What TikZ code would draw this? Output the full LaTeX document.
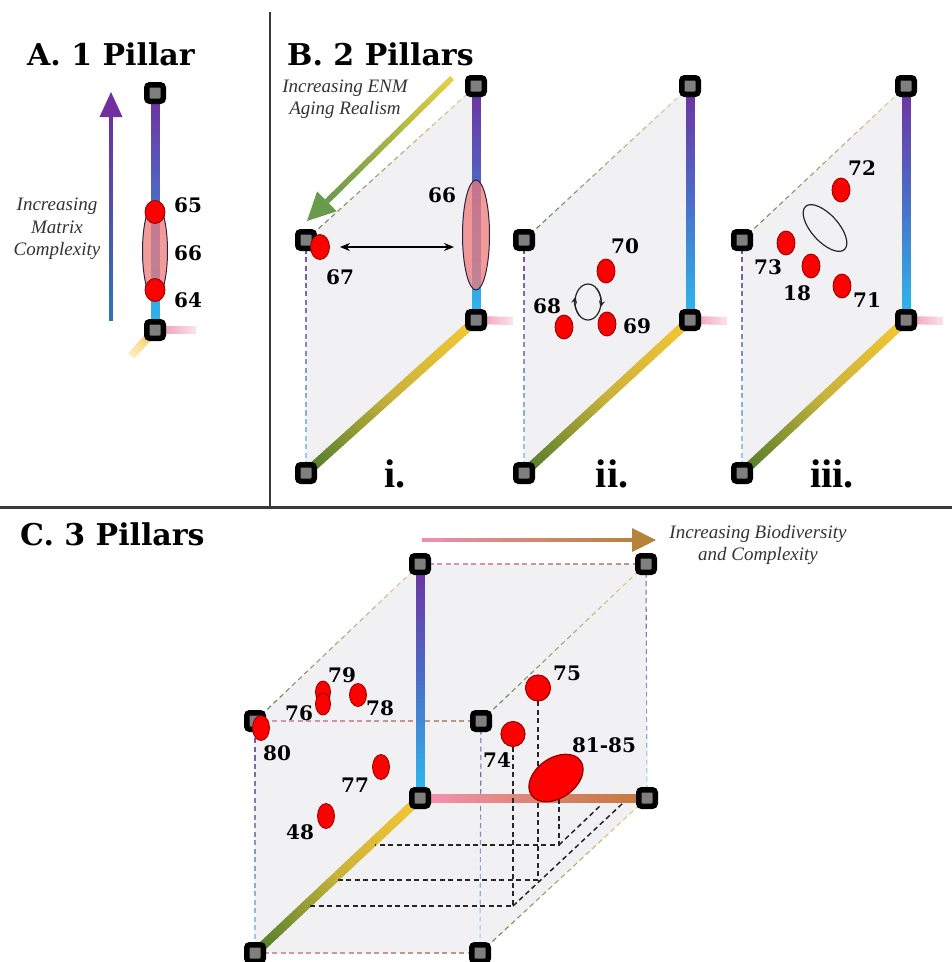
\documentclass[tikz,border=0pt]{standalone}
\usepackage{fontspec}
\setmainfont{Liberation Serif}
\newfontfamily\labfont{DejaVu Serif}
\usetikzlibrary{calc,arrows.meta,shapes.geometric}

\definecolor{facegrey}{HTML}{F1F0F2}
\definecolor{nodegrey}{HTML}{7F7F7F}
\definecolor{mpurple}{HTML}{7030A0}
\definecolor{mblue}{HTML}{4A6FC8}
\definecolor{mcyan}{HTML}{2CBBEE}
\definecolor{eyellow}{HTML}{F6C832}
\definecolor{eolive}{HTML}{C9B33A}
\definecolor{egreen}{HTML}{4C7A2C}
\definecolor{bpink}{HTML}{F592B2}
\definecolor{bbrown}{HTML}{C47838}
\definecolor{stubpink}{HTML}{EE8FAE}
\definecolor{stubpinkend}{HTML}{FBE3EB}
\definecolor{stubyellow}{HTML}{F4C640}
\definecolor{stubyellowend}{HTML}{FCEFC8}
\definecolor{dotred}{HTML}{FF0000}
\definecolor{dotedge}{HTML}{8C0000}
\definecolor{blobfill}{HTML}{EF7A7A}
\definecolor{blobedge}{HTML}{2B2440}
\definecolor{notegrey}{HTML}{333333}
\definecolor{dpurple}{HTML}{6E4C9C}
\definecolor{dcyan}{HTML}{93D7F0}
\definecolor{dgreen}{HTML}{5F7E55}
\definecolor{dyellow}{HTML}{EAD690}
\definecolor{dpink}{HTML}{DE95AC}
\definecolor{dbrown}{HTML}{B8957E}
\definecolor{projgrey}{HTML}{262626}
\definecolor{arrblue}{HTML}{2A78B5}
\definecolor{arryellow}{HTML}{E6D040}
\definecolor{arrgreen}{HTML}{6A9A4C}
\definecolor{arrpink}{HTML}{EE90B0}
\definecolor{arrbrown}{HTML}{B7823C}
\definecolor{ruleclr}{HTML}{3A3A3A}

\tikzset{
  pnode/.style={rectangle, draw=black, line width=5.5pt, fill=nodegrey,
    minimum size=16.5pt, inner sep=0pt, rounded corners=3pt},
  reddot/.style={ellipse, draw=dotedge, line width=0.8pt, fill=dotred, inner sep=0pt},
  blob/.style={ellipse, draw=blobedge, line width=1pt, fill=blobfill, fill opacity=0.75, inner sep=0pt},
  lab/.style={font=\labfont\bfseries\fontsize{20}{22}\selectfont, text=black, inner sep=0pt},
  paneltitle/.style={font=\labfont\bfseries\fontsize{30}{34}\selectfont, inner sep=0pt},
  roman/.style={font=\bfseries\fontsize{40}{44}\selectfont, inner sep=0pt},
  note/.style={font=\itshape\fontsize{19}{22.5}\selectfont, text=notegrey, align=center, inner sep=0pt},
  dashline/.style={line width=1.1pt, dash pattern=on 5pt off 3.5pt},
  projline/.style={line width=1.5pt, draw=projgrey, dash pattern=on 5pt off 3.5pt},
  ringline/.style={draw=black!85, line width=1.2pt},
}

% solid bar whose colour runs from #3 (at #1) to #4 (at #2)
\newcommand\gradbar[5]{%
  \foreach \k in {1,...,32}{%
    \pgfmathsetmacro\gpA{(\k-1)/32}%
    \pgfmathsetmacro\gpB{min(1,(\k+0.3)/32)}%
    \pgfmathtruncatemacro\gmix{100-(\k-0.5)*100/32}%
    \draw[line width=#5, draw={#3!\gmix!#4}] ($(#1)!\gpA!(#2)$) -- ($(#1)!\gpB!(#2)$);
  }}

% dashed edge with a colour ramp; the dash phase is carried across pieces
\newcommand\dashgrad[4]{%
  \pgfpointdiff{\pgfpointanchor{#1}{center}}{\pgfpointanchor{#2}{center}}%
  \pgfgetlastxy{\gdx}{\gdy}%
  \pgfmathveclen{\gdx}{\gdy}\let\glen\pgfmathresult
  \foreach \k in {1,...,12}{%
    \pgfmathsetmacro\gpA{(\k-1)/12}%
    \pgfmathsetmacro\gpB{\k/12}%
    \pgfmathtruncatemacro\gmix{100-(\k-0.5)*100/12}%
    \pgfmathsetmacro\gph{(\k-1)*\glen/12}%
    \draw[dashline, draw={#3!\gmix!#4}, dash phase=\gph pt] ($(#1)!\gpA!(#2)$) -- ($(#1)!\gpB!(#2)$);
  }}

% shaded arrow: #1 tail, #2 tip, #3 base name, #4/#5 colours, #6 head length, #7 half width, #8 shaft width
\newcommand\gradarrow[8]{%
  \coordinate (#3) at ($(#2)!#6!(#1)$);
  \gradbar{#1}{#3}{#4}{#5}{#8}
  \fill[#5] (#2) -- ($(#3)!#7!90:(#2)$) -- ($(#3)!#7!-90:(#2)$) -- cycle;
}

\begin{document}
\begin{tikzpicture}[x=1pt,y=-1pt]
\useasboundingbox (0,0) rectangle (952,962);
\fill[white] (0,0) rectangle (952,962);

% panel dividers
\draw[ruleclr, line width=1.6pt] (270,12) -- (270,507);
\draw[ruleclr, line width=3pt] (0,507) -- (952,507);

% ---------------- A. one pillar ----------------
\coordinate (aT) at (155,93);
\coordinate (aB) at (155,330);
\coordinate (aMid) at ($(aT)!.5!(aB)$);
\coordinate (aPk) at (196,330);
\coordinate (aYl) at (131,356);
\gradbar{aB}{aPk}{stubpink}{stubpinkend}{8pt}
\gradbar{aB}{aYl}{stubyellow}{stubyellowend}{8pt}
\gradbar{aT}{aMid}{mpurple}{mblue}{9pt}
\gradbar{aMid}{aB}{mblue}{mcyan}{9pt}
\node[pnode] (naT) at (aT) {};
\node[pnode] (naB) at (aB) {};

\coordinate (mTail) at (111,321);
\coordinate (mTip) at (111,92);
\gradarrow{mTail}{mTip}{mBase}{arrblue}{mpurple}{25pt}{11.5pt}{4.5pt}
\node[note] (tMat) at (57,229) {Increasing\\Matrix\\Complexity};

\node[blob, minimum width=25pt, minimum height=97pt] (a66) at (155,251) {};
\node[reddot, minimum width=20pt, minimum height=23pt] (a65) at (155,212) {};
\node[reddot, minimum width=20pt, minimum height=23pt] (a64) at (155,290) {};
\node[lab] (l65) at (188,205) {65};
\node[lab] (l66) at (188,253) {66};
\node[lab] (l64) at (188,300) {64};

\node[paneltitle, anchor=base west] (tA) at (27,65) {A. 1 Pillar};

% ---------------- B. two pillars ----------------
\foreach \p/\lx/\rx in {i/306/476, ii/524/690, iii/742/906}{
  \coordinate (L\p) at (\lx,240);
  \coordinate (T\p) at (\rx,86);
  \coordinate (R\p) at (\rx,320);
  \coordinate (G\p) at (\lx,473);
  \coordinate (M\p) at ($(T\p)!.5!(R\p)$);
  \coordinate (E\p) at ($(R\p)!.5!(G\p)$);
  \coordinate (S\p) at (\rx+37,321);
  \fill[facegrey] (L\p) -- (T\p) -- (R\p) -- (G\p) -- cycle;
  \dashgrad{L\p}{T\p}{dgreen}{dyellow}
  \dashgrad{L\p}{G\p}{dpurple}{dcyan}
  \gradbar{R\p}{S\p}{stubpink}{stubpinkend}{8pt}
  \gradbar{T\p}{M\p}{mpurple}{mblue}{9pt}
  \gradbar{M\p}{R\p}{mblue}{mcyan}{9pt}
  \gradbar{R\p}{E\p}{eyellow}{eolive}{9pt}
  \gradbar{E\p}{G\p}{eolive}{egreen}{9pt}
  \node[pnode] (nL\p) at (L\p) {};
  \node[pnode] (nT\p) at (T\p) {};
  \node[pnode] (nR\p) at (R\p) {};
  \node[pnode] (nG\p) at (G\p) {};
}

\node[paneltitle, anchor=base west] (tB) at (287,65) {B. 2 Pillars};
\coordinate (eTail) at (452,78);
\coordinate (eTip) at (307,221);
\gradarrow{eTail}{eTip}{eBase}{arryellow}{arrgreen}{28pt}{14pt}{5.5pt}
\node[note] (tEnm) at (345,99) {Increasing ENM\\Aging Realism};

% i.
\node[blob, minimum width=27pt, minimum height=110pt] (b66) at (476,235) {};
\node[reddot, minimum width=19pt, minimum height=25pt] (b67) at (320,247) {};
\draw[line width=1.3pt, {Stealth[length=10pt,width=8pt]}-{Stealth[length=10pt,width=8pt]},
  shorten <=10pt, shorten >=8pt] (b67.east) -- (b67.east -| b66.west);
\node[lab] (l66b) at (442,195) {66};
\node[lab] (l67) at (340,277) {67};
\node[roman, anchor=base] (ri) at (395,487) {i.};

% ii.
\coordinate (cyc) at (588,302);
\draw[ringline] (cyc) ellipse [x radius=13, y radius=18];
\draw[ringline, -{Stealth[length=7pt,width=6pt]}] (cyc) ++(130:13 and 18)
  arc[start angle=130, end angle=198, x radius=13, y radius=18];
\draw[ringline, -{Stealth[length=7pt,width=6pt]}] (cyc) ++(-50:13 and 18)
  arc[start angle=-50, end angle=18, x radius=13, y radius=18];
\node[reddot, minimum width=18pt, minimum height=24pt] (b70) at (606,271) {};
\node[reddot, minimum width=18pt, minimum height=24pt] (b68) at (564,327) {};
\node[reddot, minimum width=18pt, minimum height=24pt] (b69) at (607,324) {};
\node[lab] (l70) at (625,246) {70};
\node[lab] (l68) at (547,306) {68};
\node[lab] (l69) at (637,326) {69};
\node[roman, anchor=base] (rii) at (612,487) {ii.};

% iii.
\node[ellipse, ringline, minimum width=58pt, minimum height=27pt, rotate=-48, inner sep=0pt] (ring) at (825,228) {};
\node[reddot, minimum width=18pt, minimum height=24pt] (b72) at (841,190) {};
\node[reddot, minimum width=18pt, minimum height=24pt] (b73) at (786,243) {};
\node[reddot, minimum width=18pt, minimum height=24pt] (b18) at (811,266) {};
\node[reddot, minimum width=18pt, minimum height=24pt] (b71) at (842,286) {};
\node[lab] (l72) at (862,168) {72};
\node[lab] (l73) at (768,267) {73};
\node[lab] (l18) at (797,293) {18};
\node[lab] (l71) at (867,300) {71};
\node[roman, anchor=base] (riii) at (832,487) {iii.};

% ---------------- C. three pillars ----------------
\node[paneltitle, anchor=base west] (tC) at (20,545) {C. 3 Pillars};
\coordinate (cA) at (420,564);
\coordinate (cTR) at (646,564);
\coordinate (cO) at (420,798);
\coordinate (cR) at (647,798);
\coordinate (cL) at (255,721);
\coordinate (cM) at (481,721);
\coordinate (cG) at (255,953);
\coordinate (cB) at (480,953);
\coordinate (cAO) at ($(cA)!.5!(cO)$);
\coordinate (cOG) at ($(cO)!.5!(cG)$);

\fill[facegrey] (cL) -- (cA) -- (cTR) -- (cR) -- (cB) -- (cG) -- cycle;

\dashgrad{cA}{cTR}{dpink}{dbrown}
\dashgrad{cL}{cM}{dpink}{dbrown}
\dashgrad{cG}{cB}{dpink}{dbrown}
\dashgrad{cL}{cA}{dgreen}{dyellow}
\dashgrad{cM}{cTR}{dgreen}{dyellow}
\dashgrad{cB}{cR}{dgreen}{dyellow}
\dashgrad{cL}{cG}{dpurple}{dcyan}
\dashgrad{cM}{cB}{dpurple}{dcyan}
\dashgrad{cTR}{cR}{dpurple}{dcyan}

\gradbar{cA}{cAO}{mpurple}{mblue}{9pt}
\gradbar{cAO}{cO}{mblue}{mcyan}{9pt}
\gradbar{cO}{cR}{bpink}{bbrown}{9pt}
\gradbar{cO}{cOG}{eyellow}{eolive}{9pt}
\gradbar{cOG}{cG}{eolive}{egreen}{9pt}

% axis arrow above the cube
\coordinate (bTail) at (422,540);
\coordinate (bTip) at (656,540);
\gradarrow{bTail}{bTip}{bBase}{arrpink}{arrbrown}{24pt}{12pt}{4pt}
\node[note] (tBio) at (758,545) {Increasing Biodiversity\\and Complexity};

% points placed in the cube
\node[reddot, minimum width=25pt, minimum height=26pt] (c75) at (538,688) {};
\node[reddot, minimum width=24pt, minimum height=25pt] (c74) at (513,734) {};
\coordinate (v81) at (559,790);

% drop lines onto the floor and back to the axes
\coordinate (p74) at (513,906);
\coordinate (p75) at (538,880);
\coordinate (p81) at (559,845);
\coordinate (h74) at (307,906);
\coordinate (h75) at (337,880);
\coordinate (h81) at (375,845);
\coordinate (e74) at (623,803);
\coordinate (e81) at (602,804);
\draw[projline] (c74) -- (p74) -- (h74);
\draw[projline] (c75) -- (p75) -- (h75);
\draw[projline] (v81) -- (p81) -- (h81);
\draw[projline] (p74) -- (e74);
\draw[projline] (p81) -- (e81);

\foreach \n in {A,TR,O,R,L,M,G,B}{
  \node[pnode] (nc\n) at (c\n) {};
}

\node[reddot, minimum width=25pt, minimum height=26pt] (c75b) at (c75) {};
\node[reddot, minimum width=24pt, minimum height=25pt] (c74b) at (c74) {};
\node[reddot, line width=1.2pt, minimum width=60pt, minimum height=40pt, rotate=35] (c81) at (556,778) {};
\node[reddot, minimum width=17pt, minimum height=25pt] (c80) at (261,728) {};
\node[reddot, minimum width=15pt, minimum height=22pt] (c79) at (323,692) {};
\node[reddot, minimum width=15pt, minimum height=22pt] (c76) at (323,704) {};
\node[reddot, minimum width=17pt, minimum height=23pt] (c78) at (358,695) {};
\node[reddot, minimum width=17pt, minimum height=25pt] (c77) at (381,767) {};
\node[reddot, minimum width=17pt, minimum height=25pt] (c48) at (326,816) {};

\node[lab] (l79) at (342,675) {79};
\node[lab] (l76) at (299,713) {76};
\node[lab] (l78) at (380,708) {78};
\node[lab] (l80) at (277,753) {80};
\node[lab] (l77) at (355,785) {77};
\node[lab] (l48) at (300,832) {48};
\node[lab] (l75) at (567,673) {75};
\node[lab] (l74) at (497,760) {74};
\node[lab] (l81) at (604,745) {81-85};

\end{tikzpicture}
\end{document}
